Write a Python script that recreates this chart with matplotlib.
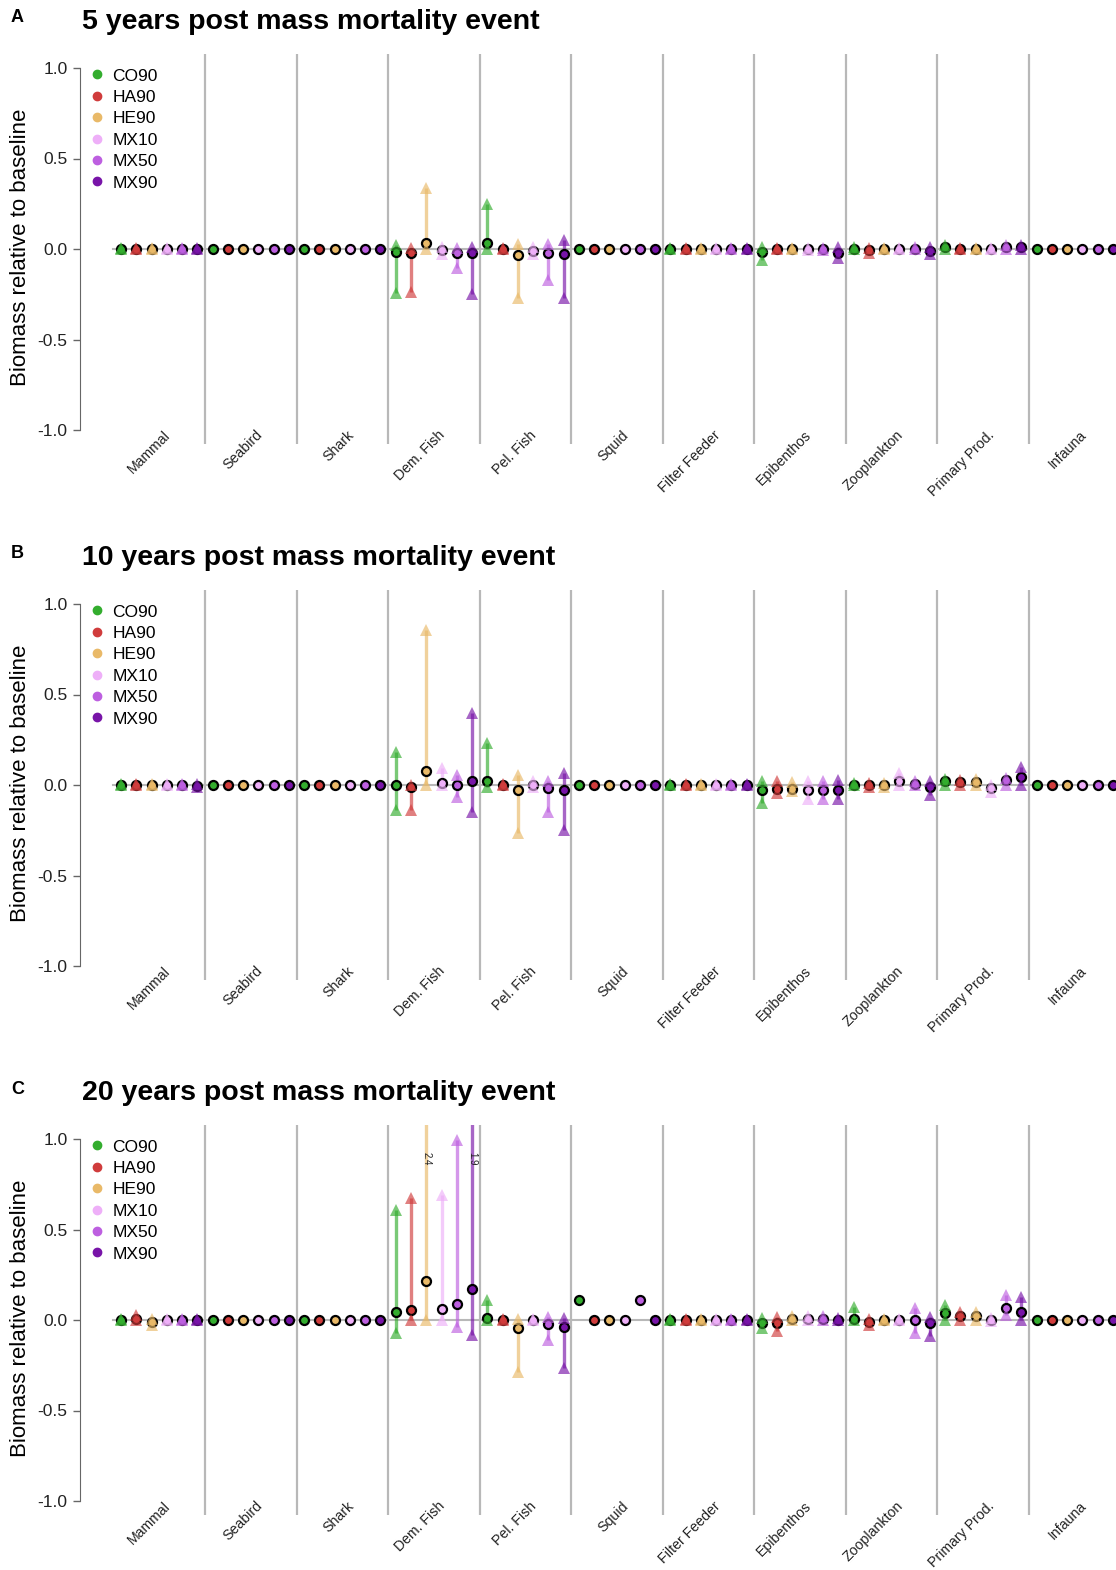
import numpy as np
import matplotlib
matplotlib.use("Agg")
import matplotlib.pyplot as plt
from matplotlib.lines import Line2D

plt.rcParams['font.family'] = ['Liberation Sans', 'DejaVu Sans']

groups = ['Mammal', 'Seabird', 'Shark', 'Dem. Fish', 'Pel. Fish', 'Squid',
          'Filter Feeder', 'Epibenthos', 'Zooplankton', 'Primary Prod.', 'Infauna']
scenarios = ['CO90', 'HA90', 'HE90', 'MX10', 'MX50', 'MX90']
colors = ['#33ad2e', '#d03c3c', '#e9b968', '#eeaff8', '#bd5fe0', '#7814a8']
titles = ['5 years post mass mortality event',
          '10 years post mass mortality event',
          '20 years post mass mortality event']
letters = ['A', 'B', 'C']
nan = np.nan
N6 = [nan] * 6
Z6 = [0.0] * 6
S6 = [0.005] * 6

# ---- 5 years ----
mean_5 = [Z6, Z6, Z6,
          [-0.015, -0.02, 0.035, -0.005, -0.02, -0.02],
          [0.035, 0.0, -0.033, -0.01, -0.02, -0.03],
          Z6, Z6,
          [-0.015, 0.0, 0.0, 0.0, 0.0, -0.02],
          [0.0, -0.005, 0.0, 0.0, 0.0, -0.01],
          [0.01, 0.0, 0.0, 0.0, 0.01, 0.01],
          Z6]
lo_5 = [Z6, N6, N6,
        [-0.245, -0.235, 0.0, -0.025, -0.105, -0.25],
        [0.0, 0.0, -0.27, -0.03, -0.17, -0.27],
        N6, Z6,
        [-0.06, 0.0, 0.0, -0.005, -0.005, -0.05],
        [0.0, -0.02, 0.0, 0.0, 0.0, -0.03],
        Z6, N6]
hi_5 = [S6, N6, N6,
        [0.02, 0.005, 0.335, 0.01, 0.005, 0.01],
        [0.25, 0.005, 0.03, 0.01, 0.03, 0.05],
        N6, S6,
        [0.01, 0.005, 0.005, 0.005, 0.005, 0.01],
        [0.01, 0.005, 0.005, 0.005, 0.01, 0.01],
        [0.02, 0.005, 0.005, 0.005, 0.02, 0.02],
        N6]

# ---- 10 years ----
mean_10 = [[0.0, 0.0, 0.0, 0.0, 0.0, -0.005], Z6, Z6,
           [0.0, -0.01, 0.08, 0.012, 0.0, 0.024],
           [0.024, 0.0, -0.028, 0.0, -0.018, -0.028],
           Z6, Z6,
           [-0.03, -0.02, -0.02, -0.025, -0.025, -0.025],
           [0.0, 0.0, 0.0, 0.02, 0.005, -0.01],
           [0.02, 0.015, 0.015, -0.015, 0.025, 0.045],
           Z6]
lo_10 = [[0.0, 0.0, 0.0, 0.0, 0.0, -0.01], N6, N6,
         [-0.138, -0.14, 0.0, 0.0, -0.065, -0.147],
         [-0.01, 0.0, -0.265, -0.01, -0.147, -0.25],
         N6, Z6,
         [-0.1, -0.045, -0.035, -0.08, -0.08, -0.08],
         [0.0, -0.01, -0.01, 0.0, 0.0, -0.055],
         [0.0, 0.0, 0.0, -0.04, 0.0, 0.0],
         N6]
hi_10 = [S6, N6, N6,
         [0.184, 0.0, 0.857, 0.093, 0.055, 0.397],
         [0.231, 0.005, 0.055, 0.02, 0.02, 0.066],
         N6, S6,
         [0.02, 0.02, 0.015, 0.02, 0.02, 0.03],
         [0.01, 0.01, 0.01, 0.065, 0.02, 0.02],
         [0.035, 0.03, 0.035, 0.0, 0.04, 0.1],
         N6]

# ---- 20 years ----
mean_20 = [[0.0, 0.005, -0.01, 0.0, 0.0, 0.0], Z6, Z6,
           [0.046, 0.055, 0.217, 0.059, 0.087, 0.17],
           [0.01, 0.0, -0.045, 0.0, -0.02, -0.037],
           [0.11, 0.0, 0.0, 0.0, 0.11, 0.0],
           Z6,
           [-0.015, -0.017, 0.005, 0.005, 0.005, 0.0],
           [0.005, -0.01, 0.0, 0.0, 0.0, -0.017],
           [0.038, 0.02, 0.02, 0.0, 0.066, 0.045],
           Z6]
lo_20 = [[0.0, 0.0, -0.025, 0.0, 0.0, 0.0], N6, N6,
         [-0.073, 0.0, 0.0, 0.0, -0.037, -0.083],
         [0.0, 0.0, -0.285, 0.0, -0.11, -0.266],
         N6, Z6,
         [-0.045, -0.06, 0.0, 0.0, 0.0, 0.0],
         [0.0, -0.028, 0.0, 0.0, -0.072, -0.09],
         [0.0, 0.0, 0.0, -0.005, 0.028, 0.0],
         N6]
hi_20 = [[0.005, 0.03, 0.005, 0.005, 0.005, 0.005], N6, N6,
         [0.608, 0.674, 2.4, 0.69, 0.994, 1.9],
         [0.11, 0.005, 0.005, 0.005, 0.018, 0.01],
         N6, S6,
         [0.01, 0.017, 0.02, 0.02, 0.02, 0.01],
         [0.072, 0.005, 0.005, 0.005, 0.066, 0.017],
         [0.083, 0.045, 0.045, 0.01, 0.138, 0.127],
         N6]

panels = [(mean_5, lo_5, hi_5), (mean_10, lo_10, hi_10), (mean_20, lo_20, hi_20)]

W, H = 1116, 1570
fig = plt.figure(figsize=(W / 100, H / 100), dpi=100)

YMAX = 1.08
zero_px = [249, 785, 1320]
px_per_unit = 181.0
ax_left = 80 / W
n_g, n_s = len(groups), len(scenarios)
xlim = (-1.69, 66.2)

for p, (means, los, his) in enumerate(panels):
    top_px = zero_px[p] - YMAX * px_per_unit
    bot_px = zero_px[p] + YMAX * px_per_unit
    ax = fig.add_axes([ax_left, 1 - bot_px / H, 1 - ax_left, (bot_px - top_px) / H])
    ax.set_xlim(*xlim)
    ax.set_ylim(-YMAX, YMAX)

    for g in range(1, n_g):
        ax.axvline(g * n_s + 0.5, color='#b8b8b8', lw=1.6, zorder=1)
    ax.plot([0.5, n_g * n_s + 0.5], [0, 0], color='#b8b8b8', lw=1.5, zorder=1)

    for g in range(n_g):
        for s in range(n_s):
            x = g * n_s + s + 1
            c = colors[s]
            m, lo, hi = means[g][s], los[g][s], his[g][s]
            ax.plot(x, m, 'o', ms=6.5, mfc=c, mec='black', mew=1.6, zorder=3)
            if not np.isnan(lo):
                ax.plot([x, x], [lo, hi], color=c, lw=2.4, alpha=0.65,
                        solid_capstyle='butt', zorder=2)
                ax.plot([x, x], [lo, hi], '^', ms=8, color=c, alpha=0.65,
                        mew=0, zorder=4)
                if hi > YMAX:
                    ax.text(x, 0.89, f'{hi:.1f}', rotation=-90, fontsize=7,
                            ha='center', va='center', color='#222222', zorder=5)

    for side in ['top', 'right', 'bottom']:
        ax.spines[side].set_visible(False)
    ax.spines['left'].set_bounds(-1, 1)
    ax.spines['left'].set_color('#666666')
    ax.set_yticks([1.0, 0.5, 0.0, -0.5, -1.0])
    ax.set_yticklabels(['1.0', '0.5', '0.0', '-0.5', '-1.0'])
    ax.tick_params(axis='y', length=5, width=1, color='#666666',
                   labelsize=12.5, pad=4, labelcolor='#222222')
    ax.set_xticks([])
    ax.set_ylabel('Biomass relative to baseline', fontsize=16)
    ax.yaxis.set_label_coords(-0.0475, 0.505)

    for g, name in enumerate(groups):
        xc = g * n_s + 3.5 + 0.6
        ax.text(xc, 0.03, name, transform=ax.get_xaxis_transform(),
                rotation=45, rotation_mode='anchor', ha='right', va='center',
                fontsize=10.2, color='#222222')

    handles = [Line2D([], [], marker='o', ls='', ms=6, mfc=c, mec=c) for c in colors]
    ax.legend(handles, scenarios, loc='upper left', bbox_to_anchor=(0.0097, 0.962),
              frameon=False, fontsize=12.5, handlelength=0.8, handletextpad=0.5,
              labelspacing=0.36, borderpad=0, borderaxespad=0)

    title_y = [22, 558, 1093][p]
    fig.text(82 / W, 1 - title_y / H, titles[p], fontsize=20.5, fontweight='bold',
             ha='left', va='center')
    fig.text(11 / W, 1 - (title_y - 4) / H, letters[p], fontsize=13,
             fontweight='bold', ha='left', va='center')

fig.savefig('out.png', dpi=100)
